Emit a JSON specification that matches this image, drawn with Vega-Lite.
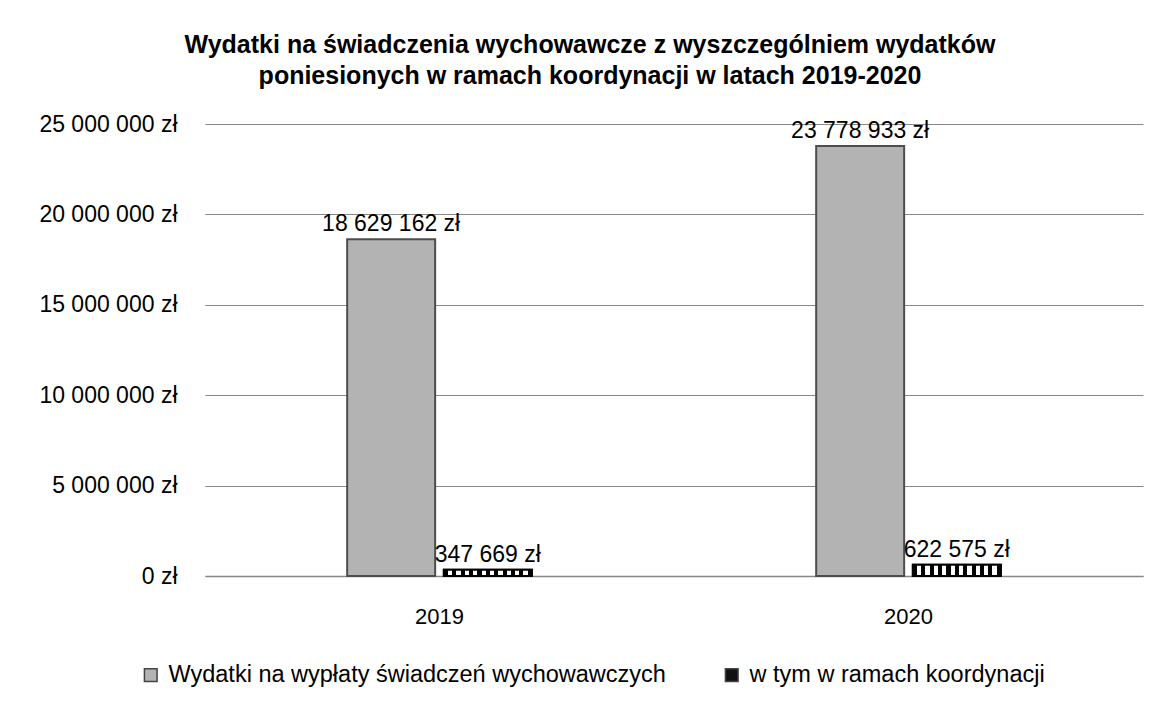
{
  "$schema": "https://vega.github.io/schema/vega-lite/v6.json",
  "width": 938,
  "height": 452,
  "autosize": {"type": "none"},
  "padding": {"left": 205, "top": 124, "right": 12, "bottom": 128},
  "background": "white",
  "config": {
    "font": "Liberation Sans",
    "view": {"stroke": null},
    "locale": {
      "number": {"decimal": ",", "thousands": " ", "grouping": [3], "currency": ["", " zł"]}
    }
  },
  "title": {
    "text": ["Wydatki na świadczenia wychowawcze z wyszczególniem wydatków", "poniesionych w ramach koordynacji w latach 2019-2020"],
    "fontSize": 25,
    "fontWeight": "bold",
    "color": "#000000",
    "anchor": "middle",
    "dx": -84,
    "offset": 24,
    "lineHeight": 31
  },
  "data": {
    "values": [
      {"rok": "2019", "seria": "Wydatki na wypłaty świadczeń wychowawczych", "kwota": 18629162},
      {"rok": "2019", "seria": "w tym w ramach koordynacji", "kwota": 347669},
      {"rok": "2020", "seria": "Wydatki na wypłaty świadczeń wychowawczych", "kwota": 23778933},
      {"rok": "2020", "seria": "w tym w ramach koordynacji", "kwota": 622575}
    ]
  },
  "encoding": {
    "x": {
      "field": "rok",
      "type": "nominal",
      "scale": {"paddingInner": 0.194, "paddingOuter": 0.097},
      "axis": {
        "title": null,
        "labelAngle": 0,
        "labelFontSize": 22,
        "labelColor": "#000000",
        "labelPadding": 30,
        "ticks": false,
        "domainColor": "#888888",
        "domainWidth": 1.5
      }
    },
    "xOffset": {
      "field": "seria",
      "type": "nominal",
      "scale": {"paddingInner": 0.09, "paddingOuter": 1}
    },
    "y": {
      "field": "kwota",
      "type": "quantitative",
      "scale": {"domain": [0, 25000000]},
      "axis": {
        "title": null,
        "format": "$,.0f",
        "values": [0, 5000000, 10000000, 15000000, 20000000, 25000000],
        "labelFontSize": 23,
        "labelColor": "#000000",
        "labelPadding": 28,
        "domain": false,
        "ticks": false,
        "gridColor": "#888888",
        "gridWidth": 1.2
      }
    }
  },
  "layer": [
    {
      "mark": {"type": "bar", "strokeWidth": 2},
      "encoding": {
        "fill": {
          "field": "seria",
          "type": "nominal",
          "scale": {"range": ["#b3b3b3", "#111111"]},
          "legend": {
            "title": null,
            "orient": "none",
            "legendX": -66,
            "legendY": 539,
            "direction": "horizontal",
            "labelFontSize": 23.5,
            "labelColor": "#000000",
            "labelLimit": 0,
            "symbolType": "square",
            "symbolSize": 160,
            "symbolStrokeColor": "#444444",
            "symbolStrokeWidth": 1.5,
            "columnPadding": 54,
            "labelOffset": 6
          }
        },
        "stroke": {
          "condition": {"test": "datum.seria === 'w tym w ramach koordynacji'", "value": "#000000"},
          "value": "#4d4d4d"
        }
      }
    },
    {
      "transform": [{"filter": "datum.seria === 'w tym w ramach koordynacji'"}],
      "mark": {"type": "bar", "stroke": "#000000", "strokeWidth": 2},
      "encoding": {
        "fill": {
          "value": {
            "gradient": "linear", "x1": 0, "x2": 1, "y1": 0, "y2": 0,
            "stops": [
              {"offset": 0, "color": "#000000"}, {"offset": 0.0476, "color": "#000000"},
              {"offset": 0.0476, "color": "#ffffff"}, {"offset": 0.0952, "color": "#ffffff"},
              {"offset": 0.0952, "color": "#000000"}, {"offset": 0.1429, "color": "#000000"},
              {"offset": 0.1429, "color": "#ffffff"}, {"offset": 0.1905, "color": "#ffffff"},
              {"offset": 0.1905, "color": "#000000"}, {"offset": 0.2381, "color": "#000000"},
              {"offset": 0.2381, "color": "#ffffff"}, {"offset": 0.2857, "color": "#ffffff"},
              {"offset": 0.2857, "color": "#000000"}, {"offset": 0.3333, "color": "#000000"},
              {"offset": 0.3333, "color": "#ffffff"}, {"offset": 0.381, "color": "#ffffff"},
              {"offset": 0.381, "color": "#000000"}, {"offset": 0.4286, "color": "#000000"},
              {"offset": 0.4286, "color": "#ffffff"}, {"offset": 0.4762, "color": "#ffffff"},
              {"offset": 0.4762, "color": "#000000"}, {"offset": 0.5238, "color": "#000000"},
              {"offset": 0.5238, "color": "#ffffff"}, {"offset": 0.5714, "color": "#ffffff"},
              {"offset": 0.5714, "color": "#000000"}, {"offset": 0.619, "color": "#000000"},
              {"offset": 0.619, "color": "#ffffff"}, {"offset": 0.6667, "color": "#ffffff"},
              {"offset": 0.6667, "color": "#000000"}, {"offset": 0.7143, "color": "#000000"},
              {"offset": 0.7143, "color": "#ffffff"}, {"offset": 0.7619, "color": "#ffffff"},
              {"offset": 0.7619, "color": "#000000"}, {"offset": 0.8095, "color": "#000000"},
              {"offset": 0.8095, "color": "#ffffff"}, {"offset": 0.8571, "color": "#ffffff"},
              {"offset": 0.8571, "color": "#000000"}, {"offset": 0.9048, "color": "#000000"},
              {"offset": 0.9048, "color": "#ffffff"}, {"offset": 0.9524, "color": "#ffffff"},
              {"offset": 0.9524, "color": "#000000"}, {"offset": 1, "color": "#000000"}
            ]
          }
        }
      }
    },
    {
      "mark": {"type": "text", "baseline": "bottom", "dy": -3, "fontSize": 23, "color": "#000000"},
      "encoding": {
        "text": {"field": "kwota", "type": "quantitative", "format": "$,.0f"}
      }
    }
  ]
}
